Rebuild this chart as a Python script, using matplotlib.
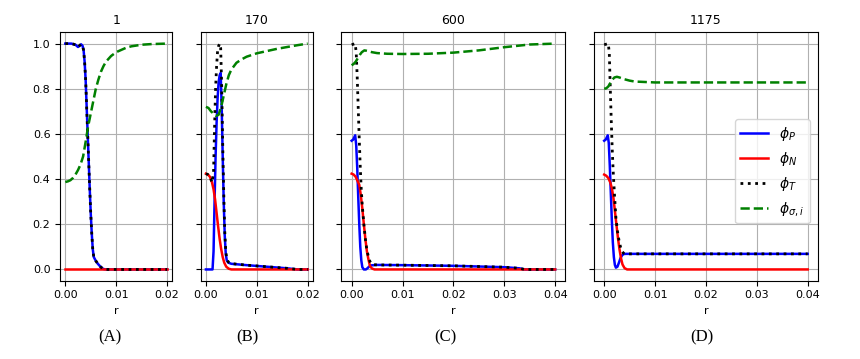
import matplotlib
matplotlib.use("Agg")
import matplotlib.pyplot as plt

# panel titles and captions
titles = ["1", "170", "600", "1175"]
captions = ["(A)", "(B)", "(C)", "(D)"]
xlims_max = [0.02, 0.02, 0.04, 0.04]

# ---- panel A ----
A_P_r = [0, 0.0012, 0.002, 0.0025, 0.0031, 0.0034, 0.0036, 0.0038, 0.004, 0.0042, 0.0044, 0.0046,
         0.0048, 0.005, 0.0052, 0.0054, 0.0056, 0.006, 0.0064, 0.007, 0.0075, 0.008, 0.02]
A_P = [1.0, 1.0, 0.995, 0.985, 0.997, 0.99, 0.97, 0.92, 0.84, 0.72, 0.6, 0.48,
       0.36, 0.25, 0.16, 0.09, 0.055, 0.038, 0.025, 0.01, 0.002, 0.0, 0.0]
A_N_r = [0, 0.02]
A_N = [0.0, 0.0]
A_T_r = A_P_r
A_T = [1.0, 1.0, 0.995, 0.985, 0.997, 0.99, 0.97, 0.92, 0.84, 0.72, 0.6, 0.48,
       0.36, 0.25, 0.16, 0.09, 0.055, 0.038, 0.025, 0.01, 0.002, 0.0, 0.0]
A_S_r = [0, 0.0005, 0.001, 0.0015, 0.002, 0.0025, 0.003, 0.0035, 0.004, 0.0045, 0.005, 0.0055,
         0.006, 0.0065, 0.007, 0.0075, 0.008, 0.009, 0.01, 0.011, 0.012, 0.013, 0.015, 0.017, 0.02]
A_S = [0.387, 0.39, 0.395, 0.405, 0.42, 0.44, 0.465, 0.50, 0.565, 0.635, 0.69, 0.745,
       0.80, 0.84, 0.875, 0.90, 0.92, 0.945, 0.962, 0.972, 0.982, 0.988, 0.995, 0.998, 1.0]

# ---- panel B ----
B_P_r = [0, 0.0013, 0.0015, 0.0017, 0.0019, 0.0021, 0.0023, 0.0025, 0.0027, 0.0029, 0.0031, 0.0033,
         0.0035, 0.0037, 0.0039, 0.0041, 0.0044, 0.005, 0.008, 0.012, 0.016, 0.018, 0.02]
B_P = [0.0, 0.0, 0.08, 0.3, 0.5, 0.65, 0.76, 0.83, 0.86, 0.87, 0.72, 0.5,
       0.3, 0.15, 0.07, 0.04, 0.03, 0.025, 0.019, 0.012, 0.005, 0.0, 0.0]
B_N_r = [0, 0.0004, 0.0008, 0.0012, 0.0015, 0.0018, 0.0021, 0.0024, 0.0027, 0.003, 0.0033, 0.0036,
         0.004, 0.0045, 0.005, 0.02]
B_N = [0.424, 0.42, 0.41, 0.385, 0.355, 0.31, 0.25, 0.19, 0.135, 0.09, 0.055, 0.03,
       0.012, 0.003, 0.0, 0.0]
B_T_r = [0, 0.0004, 0.0008, 0.0012, 0.0015, 0.0017, 0.0019, 0.0021, 0.0023, 0.0025, 0.0027, 0.0029,
         0.0031, 0.0033, 0.0035, 0.0037, 0.0039, 0.0041, 0.0044, 0.005, 0.008, 0.012, 0.016, 0.018, 0.02]
B_T = [0.424, 0.42, 0.41, 0.385, 0.43, 0.63, 0.80, 0.90, 0.97, 0.99, 1.0, 0.98,
       0.81, 0.555, 0.34, 0.17, 0.08, 0.047, 0.033, 0.026, 0.019, 0.012, 0.005, 0.0, 0.0]
B_S_r = [0, 0.0005, 0.001, 0.0015, 0.002, 0.0025, 0.003, 0.0035, 0.004, 0.0045, 0.005, 0.006,
         0.007, 0.008, 0.01, 0.012, 0.014, 0.016, 0.018, 0.02]
B_S = [0.72, 0.715, 0.70, 0.69, 0.68, 0.685, 0.72, 0.77, 0.82, 0.86, 0.885, 0.915,
       0.93, 0.942, 0.957, 0.967, 0.977, 0.985, 0.993, 1.0]

# ---- panel C ----
C_P_r = [0, 0.0003, 0.0007, 0.0009, 0.0011, 0.0013, 0.0015, 0.0017, 0.0019, 0.0021, 0.0024,
         0.0028, 0.0031, 0.0034, 0.0038, 0.005, 0.01, 0.02, 0.03, 0.033, 0.034, 0.04]
C_P = [0.57, 0.575, 0.594, 0.55, 0.45, 0.32, 0.2, 0.1, 0.04, 0.01, 0.0,
       0.0, 0.005, 0.012, 0.018, 0.02, 0.019, 0.016, 0.01, 0.005, 0.0, 0.0]
C_N_r = [0, 0.0004, 0.0008, 0.0012, 0.0015, 0.0018, 0.0021, 0.0024, 0.0027, 0.003, 0.0033,
         0.0036, 0.004, 0.0045, 0.04]
C_N = [0.424, 0.42, 0.41, 0.39, 0.375, 0.33, 0.27, 0.2, 0.135, 0.08, 0.045,
       0.015, 0.004, 0.0, 0.0]
C_T_r = [0, 0.0007, 0.0009, 0.0011, 0.0013, 0.0015, 0.0017, 0.0019, 0.0021, 0.0024, 0.0027,
         0.003, 0.0033, 0.0036, 0.004, 0.005, 0.01, 0.02, 0.03, 0.033, 0.034, 0.04]
C_T = [0.995, 1.0, 0.96, 0.85, 0.71, 0.575, 0.45, 0.35, 0.28, 0.2, 0.135,
       0.085, 0.057, 0.035, 0.022, 0.02, 0.019, 0.016, 0.01, 0.005, 0.0, 0.0]
C_S_r = [0, 0.0004, 0.0008, 0.0012, 0.0016, 0.002, 0.0025, 0.003, 0.004, 0.005, 0.007,
         0.01, 0.015, 0.02, 0.025, 0.03, 0.035, 0.04]
C_S = [0.904, 0.91, 0.92, 0.935, 0.95, 0.962, 0.97, 0.968, 0.962, 0.958, 0.955,
       0.954, 0.955, 0.96, 0.97, 0.984, 0.996, 1.0]

# ---- panel D ----
D_P_r = [0, 0.0003, 0.0007, 0.0009, 0.0011, 0.0013, 0.0015, 0.0017, 0.0019, 0.0021, 0.0023,
         0.0026, 0.0029, 0.0032, 0.0035, 0.0038, 0.0042, 0.04]
D_P = [0.57, 0.575, 0.594, 0.56, 0.46, 0.34, 0.22, 0.12, 0.055, 0.02, 0.008,
       0.012, 0.03, 0.05, 0.062, 0.068, 0.069, 0.069]
D_N_r = [0, 0.0004, 0.0008, 0.0012, 0.0015, 0.0018, 0.0021, 0.0024, 0.0027, 0.003, 0.0033,
         0.0036, 0.004, 0.0045, 0.04]
D_N = [0.42, 0.415, 0.405, 0.385, 0.36, 0.32, 0.26, 0.2, 0.14, 0.09, 0.05,
       0.022, 0.006, 0.0, 0.0]
D_T_r = [0, 0.0008, 0.001, 0.0012, 0.0014, 0.0016, 0.0018, 0.002, 0.0023, 0.0026, 0.0029,
         0.0032, 0.0035, 0.0038, 0.0042, 0.04]
D_T = [0.995, 1.0, 0.96, 0.8, 0.65, 0.52, 0.42, 0.34, 0.23, 0.17, 0.13,
       0.1, 0.08, 0.072, 0.069, 0.069]
D_S_r = [0, 0.0004, 0.0008, 0.0012, 0.0016, 0.002, 0.0025, 0.003, 0.004, 0.005, 0.006,
         0.008, 0.01, 0.02, 0.03, 0.04]
D_S = [0.80, 0.802, 0.81, 0.825, 0.84, 0.85, 0.853, 0.85, 0.842, 0.836, 0.832,
       0.83, 0.828, 0.828, 0.828, 0.828]

panels = [
    (A_P_r, A_P, A_N_r, A_N, A_T_r, A_T, A_S_r, A_S),
    (B_P_r, B_P, B_N_r, B_N, B_T_r, B_T, B_S_r, B_S),
    (C_P_r, C_P, C_N_r, C_N, C_T_r, C_T, C_S_r, C_S),
    (D_P_r, D_P, D_N_r, D_N, D_T_r, D_T, D_S_r, D_S),
]

fig, axes = plt.subplots(1, 4, figsize=(8.6, 3.59), dpi=100, sharey=True,
                         gridspec_kw={"width_ratios": [1, 1, 2, 2]})
fig.subplots_adjust(left=0.070, right=0.951, top=0.910, bottom=0.218, wspace=0.171)

for i, ax in enumerate(axes):
    pr, p, nr, n, tr, t, sr, s = panels[i]
    ax.plot(pr, p, color="blue", lw=1.8, label=r"$\phi_P$")
    ax.plot(nr, n, color="red", lw=1.8, label=r"$\phi_N$")
    ax.plot(tr, t, color="black", lw=2, ls=":", label=r"$\phi_T$")
    ax.plot(sr, s, color="green", lw=1.8, ls="--", label=r"$\phi_{\sigma,i}$")
    ax.set_title(titles[i], fontsize=9)
    ax.set_xlabel("r", fontsize=8)
    ax.tick_params(labelsize=8)
    ax.grid(True)
    if xlims_max[i] == 0.02:
        ax.set_xticks([0.0, 0.01, 0.02])
        ax.set_xticklabels(["0.00", "0.01", "0.02"])
    else:
        ax.set_xticks([0.0, 0.01, 0.02, 0.03, 0.04])
        ax.set_xticklabels(["0.00", "0.01", "0.02", "0.03", "0.04"])

axes[0].set_yticks([0.0, 0.2, 0.4, 0.6, 0.8, 1.0])
axes[3].legend(loc="center right", bbox_to_anchor=(0.995, 0.44), fontsize=10)

cap_x = [110, 247, 445, 702]
for cx, c in zip(cap_x, captions):
    fig.text(cx / 860, 1 - 337 / 359, c, ha="center", va="center",
             fontsize=12, family="Liberation Serif")

fig.savefig("out.png", dpi=100)
